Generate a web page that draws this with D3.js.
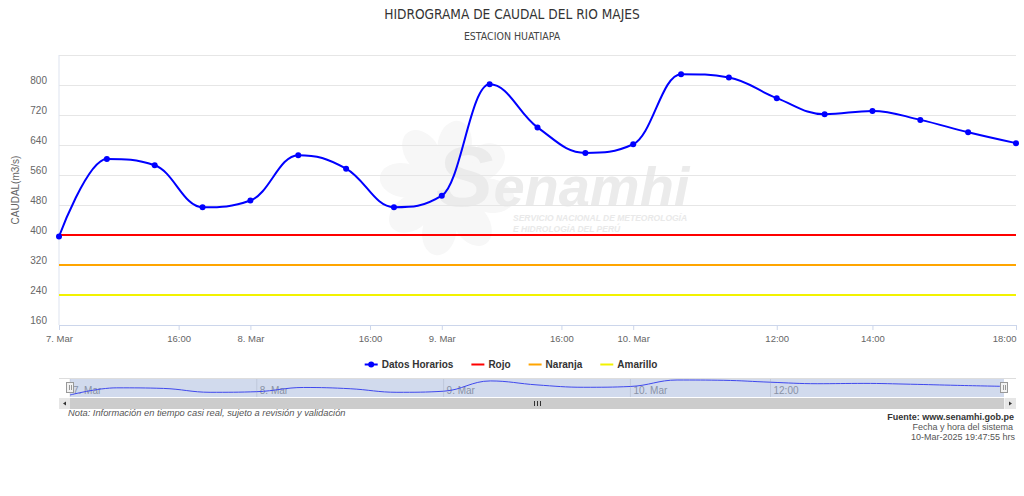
<!DOCTYPE html>
<html>
<head>
<meta charset="utf-8">
<script src="https://cdn.jsdelivr.net/npm/d3@7"></script>
<style>
body { margin: 0; background: #fff; }
svg { display: block; font-family: "Liberation Sans", Arial, sans-serif; }
</style>
</head>
<body>
<div id="chart"></div>
<script>
// datos horarios (m3/s)
var fechas = ["2025-03-07 00:00", "2025-03-07 06:00", "2025-03-07 12:00", "2025-03-07 20:00",
	"2025-03-08 00:00", "2025-03-08 06:00", "2025-03-08 12:00", "2025-03-08 20:00",
	"2025-03-09 00:00", "2025-03-09 06:00", "2025-03-09 12:00", "2025-03-09 20:00",
	"2025-03-10 00:00", "2025-03-10 04:00", "2025-03-10 08:00", "2025-03-10 12:00",
	"2025-03-10 13:00", "2025-03-10 14:00", "2025-03-10 16:00", "2025-03-10 17:00", "2025-03-10 18:00"];
var caudal = [396, 603, 586, 474, 492, 613, 577, 474, 505, 802, 687, 619, 642, 829, 820, 765, 722, 731, 707, 674, 645];

var umbralNombres = ["Rojo", "Naranja", "Amarillo"];
var umbralValores = [400, 320, 240];

var yTicks = [160, 240, 320, 400, 480, 560, 640, 720, 800, 880];
var xTicks = ["2025-03-07 00:00", "2025-03-07 16:00", "2025-03-08 00:00", "2025-03-08 16:00",
	"2025-03-09 00:00", "2025-03-09 16:00", "2025-03-10 00:00", "2025-03-10 12:00",
	"2025-03-10 14:00", "2025-03-10 18:00"];
var navTicks = ["2025-03-07 00:00", "2025-03-08 00:00", "2025-03-09 00:00", "2025-03-10 00:00", "2025-03-10 12:00"];

var umbralColores = ["#ff0000", "#ffa500", "#f2f200"];
var serieColor = "#0000ff";

var width = 1024, height = 496;
var plotLeft = 59, plotRight = 1016, plotTop = 55, plotBottom = 325;

var parse = d3.timeParse("%Y-%m-%d %H:%M");
var tiempos = fechas.map(parse);
var fmtDia = d3.timeFormat("%-d. %b"), fmtHora = d3.timeFormat("%H:%M");

// ordinal axis: points evenly spaced, time interpolated between them
function ordinal(t) {
	for (var i = 0; i < tiempos.length - 1; i++) {
		if (t >= tiempos[i] && t <= tiempos[i + 1]) {
			return i + (t - tiempos[i]) / (tiempos[i + 1] - tiempos[i]);
		}
	}
	return tiempos.length - 1;
}
function etiqueta(s) {
	var t = parse(s);
	return (t.getHours() === 0 && t.getMinutes() === 0) ? fmtDia(t) : fmtHora(t);
}

// highcharts-like spline
function spline(pts) {
	var p = d3.path(), sm = 1.5, den = sm + 1, ctrl = [];
	pts.forEach(function (pt, i) {
		var prev = pts[i - 1], next = pts[i + 1], lc = null, rc = null;
		if (prev && next) {
			var lcx = (sm * pt[0] + prev[0]) / den, lcy = (sm * pt[1] + prev[1]) / den;
			var rcx = (sm * pt[0] + next[0]) / den, rcy = (sm * pt[1] + next[1]) / den;
			var corr = 0;
			if (rcx !== lcx) corr = ((rcy - lcy) * (rcx - pt[0])) / (rcx - lcx) + pt[1] - rcy;
			lcy += corr; rcy += corr;
			if (lcy > prev[1] && lcy > pt[1]) { lcy = Math.max(prev[1], pt[1]); rcy = 2 * pt[1] - lcy; }
			else if (lcy < prev[1] && lcy < pt[1]) { lcy = Math.min(prev[1], pt[1]); rcy = 2 * pt[1] - lcy; }
			if (rcy > next[1] && rcy > pt[1]) { rcy = Math.max(next[1], pt[1]); lcy = 2 * pt[1] - rcy; }
			else if (rcy < next[1] && rcy < pt[1]) { rcy = Math.min(next[1], pt[1]); lcy = 2 * pt[1] - rcy; }
			lc = [lcx, lcy]; rc = [rcx, rcy];
		}
		if (i === 0) {
			p.moveTo(pt[0], pt[1]);
		} else {
			var c1 = ctrl[i - 1] || prev, c2 = lc || pt;
			p.bezierCurveTo(c1[0], c1[1], c2[0], c2[1], pt[0], pt[1]);
		}
		ctrl[i] = rc;
	});
	return p.toString();
}

var svg = d3.select("#chart").append("svg")
	.attr("width", width)
	.attr("height", height);

// titles
svg.append("text")
	.attr("x", 512).attr("y", 19)
	.attr("text-anchor", "middle")
	.style("font-family", "'DejaVu Sans Condensed', 'Liberation Sans Narrow', sans-serif")
	.style("font-size", "13.6px")
	.style("fill", "#333")
	.text("HIDROGRAMA DE CAUDAL DEL RIO MAJES");
svg.append("text")
	.attr("x", 512).attr("y", 39.5)
	.attr("text-anchor", "middle")
	.style("font-family", "'DejaVu Sans Condensed', 'Liberation Sans Narrow', sans-serif")
	.style("font-size", "10.5px")
	.style("fill", "#444")
	.text("ESTACION HUATIAPA");

var x = d3.scaleLinear().domain([0, caudal.length - 1]).range([plotLeft, plotRight]);
var y = d3.scaleLinear().domain([160, 880]).range([plotBottom, plotTop]);

// watermark
var wm = svg.append("g").attr("class", "watermark");
var cx = 447, cy = 188;
d3.range(8).forEach(function (k) {
	wm.append("ellipse")
		.attr("cx", cx).attr("cy", cy - 44)
		.attr("rx", 17).attr("ry", 24)
		.attr("transform", "rotate(" + (k * 45 + 10) + "," + cx + "," + cy + ")")
		.style("fill", "#f7f7f7");
});
wm.append("circle").attr("cx", cx).attr("cy", cy).attr("r", 36).style("fill", "#f7f7f7");
var wmText = wm.append("text")
	.attr("x", 436).attr("y", 206)
	.style("font-weight", "bold")
	.style("font-style", "italic")
	.style("fill", "#ebebeb");
wmText.append("tspan").style("font-size", "86px").text("S");
wmText.append("tspan").style("font-size", "56px").text("enamhi");
wm.append("text")
	.attr("x", 513).attr("y", 221)
	.style("font-size", "8.5px").style("font-weight", "bold").style("font-style", "italic")
	.style("fill", "#e9e9e9")
	.text("SERVICIO NACIONAL DE METEOROLOGÍA");
wm.append("text")
	.attr("x", 513).attr("y", 232)
	.style("font-size", "8.5px").style("font-weight", "bold").style("font-style", "italic")
	.style("fill", "#e9e9e9")
	.text("E HIDROLOGÍA DEL PERÚ");

// y axis + grid
var yAxis = svg.append("g")
	.attr("transform", "translate(" + plotLeft + ",0)")
	.call(d3.axisLeft(y).tickValues(yTicks).tickSize(-(plotRight - plotLeft)).tickPadding(12)
		.tickFormat(function (d) { return d === 880 ? "" : d; }));
yAxis.select(".domain").remove();
yAxis.selectAll(".tick line").style("stroke", "#e6e6e6");
yAxis.selectAll(".tick text")
	.attr("dy", -2)
	.style("font-size", "10px")
	.style("fill", "#666")
	.style("font-family", "'Liberation Sans', Arial, sans-serif");

svg.append("line")
	.attr("x1", plotLeft).attr("x2", plotLeft).attr("y1", plotTop).attr("y2", plotBottom)
	.style("stroke", "#dde3ef");

svg.append("text")
	.attr("transform", "translate(19," + ((plotTop + plotBottom) / 2) + ") rotate(-90)")
	.attr("text-anchor", "middle")
	.style("font-size", "10px")
	.style("fill", "#666")
	.text("CAUDAL(m3/s)");

// x axis
var xAxis = svg.append("g")
	.attr("transform", "translate(0," + plotBottom + ")")
	.call(d3.axisBottom(x)
		.tickValues(xTicks.map(function (s) { return ordinal(parse(s)); }))
		.tickFormat(function (d, i) { return etiqueta(xTicks[i]); })
		.tickSize(5).tickSizeOuter(0).tickPadding(5));
xAxis.select(".domain").style("stroke", "#ccd6eb");
xAxis.selectAll(".tick line").style("stroke", "#ccd6eb");
xAxis.selectAll(".tick text")
	.style("font-size", "9.5px")
	.style("fill", "#666")
	.style("font-family", "'Liberation Sans', Arial, sans-serif");
// keep the last label inside the chart
xAxis.selectAll(".tick text").filter(function (d, i) { return i === xTicks.length - 1; })
	.attr("text-anchor", "end").attr("x", 0);

// umbrales
svg.selectAll(".umbral")
	.data(umbralValores)
	.enter()
	.append("line")
	.attr("class", "umbral")
	.attr("x1", plotLeft).attr("x2", plotRight)
	.attr("y1", function (d) { return y(d); })
	.attr("y2", function (d) { return y(d); })
	.style("stroke", function (d, i) { return umbralColores[i]; })
	.style("stroke-width", 2);

// serie principal
var pts = caudal.map(function (v, i) { return [x(i), y(v)]; });
svg.append("path")
	.attr("d", spline(pts))
	.style("fill", "none")
	.style("stroke", serieColor)
	.style("stroke-width", 2);
svg.selectAll(".marker")
	.data(caudal)
	.enter()
	.append("circle")
	.attr("class", "marker")
	.attr("cx", function (d, i) { return x(i); })
	.attr("cy", function (d) { return y(d); })
	.attr("r", 3)
	.style("fill", serieColor);

// legend
var legendNames = ["Datos Horarios"].concat(umbralNombres);
var legendColors = [serieColor].concat(umbralColores);
var legend = svg.append("g");
var lx = 0;
legendNames.forEach(function (name, i) {
	var g = legend.append("g").attr("transform", "translate(" + lx + ",0)");
	g.append("line").attr("x1", 0).attr("x2", 13).attr("y1", 0).attr("y2", 0)
		.style("stroke", legendColors[i]).style("stroke-width", 2);
	if (i === 0) g.append("circle").attr("cx", 6.5).attr("cy", 0).attr("r", 3).style("fill", legendColors[i]);
	var t = g.append("text").attr("x", 17).attr("y", 3.5)
		.style("font-size", "10px").style("font-weight", "bold").style("fill", "#333")
		.text(name);
	lx += 17 + t.node().getComputedTextLength() + 18;
});
lx -= 18;
legend.attr("transform", "translate(" + (511 - lx / 2) + ",364.5)");

// navigator
var navL = 70, navR = 1004, navT = 378, navB = 397;
var nx = d3.scaleLinear().domain([0, caudal.length - 1]).range([navL, navR]);
var ny = d3.scaleLinear().domain(d3.extent(caudal)).range([395, 380]);
var nav = svg.append("g");
nav.selectAll(".navgrid")
	.data(navTicks)
	.enter()
	.append("line")
	.attr("x1", function (d) { return nx(ordinal(parse(d))); })
	.attr("x2", function (d) { return nx(ordinal(parse(d))); })
	.attr("y1", navT).attr("y2", navB)
	.style("stroke", "#e6e6e6");
nav.selectAll(".navlabel")
	.data(navTicks)
	.enter()
	.append("text")
	.attr("x", function (d) { return nx(ordinal(parse(d))) + 3; })
	.attr("y", 394)
	.style("font-size", "10px")
	.style("fill", "#999")
	.text(function (d) { return etiqueta(d); });
var npts = caudal.map(function (v, i) { return [nx(i), ny(v)]; });
nav.append("path")
	.attr("d", spline(npts))
	.style("fill", "none")
	.style("stroke", "#2f2fff")
	.style("stroke-width", 1);
nav.append("rect")
	.attr("x", navL).attr("y", navT).attr("width", navR - navL).attr("height", navB - navT)
	.style("fill", "rgba(102,133,194,0.3)");
nav.append("line")
	.attr("x1", plotLeft).attr("x2", plotRight).attr("y1", navT + 0.5).attr("y2", navT + 0.5)
	.style("stroke", "#ddd");
[navL, navR].forEach(function (hx) {
	nav.append("rect")
		.attr("x", hx - 3.5).attr("y", 382.5).attr("width", 7).attr("height", 10)
		.style("fill", "#f2f2f2").style("stroke", "#999");
	nav.append("line")
		.attr("x1", hx - 0.5).attr("x2", hx - 0.5).attr("y1", 385).attr("y2", 390)
		.style("stroke", "#999");
	nav.append("line")
		.attr("x1", hx + 1.5).attr("x2", hx + 1.5).attr("y1", 385).attr("y2", 390)
		.style("stroke", "#999");
});

// scrollbar
var sbT = 398, sbH = 11;
nav.append("rect").attr("x", plotLeft).attr("y", sbT).attr("width", plotRight - plotLeft).attr("height", sbH)
	.style("fill", "#f2f2f2");
nav.append("rect").attr("x", navL).attr("y", sbT).attr("width", navR - navL).attr("height", sbH)
	.style("fill", "#cccccc");
[[plotLeft, 1], [navR + 1, -1]].forEach(function (b) {
	var bx = b[0], bw = plotRight - navR - 1;
	if (b[1] === 1) bw = navL - plotLeft;
	nav.append("rect").attr("x", bx).attr("y", sbT).attr("width", bw).attr("height", sbH)
		.style("fill", "#e6e6e6");
	var mx = bx + bw / 2, my = sbT + sbH / 2;
	nav.append("path")
		.attr("d", "M" + (mx + 1.5 * b[1]) + "," + (my - 2) + "L" + (mx - 1.5 * b[1]) + "," + my + "L" + (mx + 1.5 * b[1]) + "," + (my + 2) + "Z")
		.style("fill", "#333");
});
[-3, 0, 3].forEach(function (d) {
	var rx = Math.round((navL + navR) / 2) + d + 0.5;
	nav.append("line").attr("x1", rx).attr("x2", rx).attr("y1", sbT + 3).attr("y2", sbT + sbH - 3)
		.style("stroke", "#333");
});

// notas
svg.append("text")
	.attr("x", 68).attr("y", 416)
	.style("font-size", "9.3px").style("font-style", "italic").style("fill", "#555")
	.text("Nota: Información en tiempo casi real, sujeto a revisión y validación");
svg.append("text")
	.attr("x", 1014).attr("y", 420).attr("text-anchor", "end")
	.style("font-size", "9px").style("font-weight", "bold").style("fill", "#333")
	.text("Fuente: www.senamhi.gob.pe");
svg.append("text")
	.attr("x", 1013).attr("y", 430).attr("text-anchor", "end")
	.style("font-size", "9px").style("fill", "#555")
	.text("Fecha y hora del sistema");
svg.append("text")
	.attr("x", 1015).attr("y", 440).attr("text-anchor", "end")
	.style("font-size", "9px").style("fill", "#555")
	.text("10-Mar-2025 19:47:55 hrs");
</script>
</body>
</html>
